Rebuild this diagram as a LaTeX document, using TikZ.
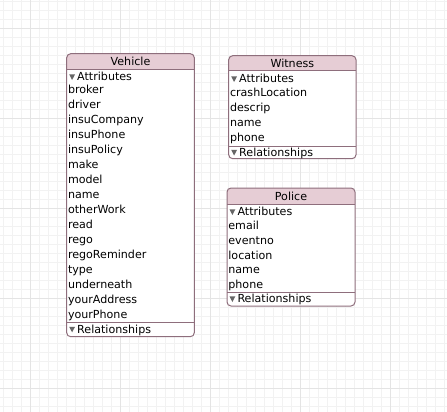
\documentclass[tikz,border=0pt]{standalone}
\usepackage{fontspec}
\setmainfont{DejaVu Sans}
\definecolor{hdr}{HTML}{E6CDD5}
\definecolor{bord}{HTML}{8E6E7C}
\definecolor{minorgrid}{HTML}{F2F2F2}
\definecolor{majorgrid}{HTML}{E4E4E4}
\definecolor{tri}{HTML}{666666}
\tikzset{
  item/.style={anchor=west, inner sep=0pt, text height=8pt, text depth=2.5pt, yshift=-1.1pt, font=\fontsize{11.1}{12}\selectfont},
  title/.style={anchor=center, inner sep=0pt, text height=8pt, text depth=2.5pt, yshift=-1.4pt, font=\fontsize{11.1}{12}\selectfont},
  boxline/.style={draw=bord, line width=1pt},
  tri/.style={fill=tri}
}
% #1 name, #2 L, #3 T, #4 R, #5 H, #6 S, #7 B, #8 title
\newcommand\entitybox[8]{%
  \begin{scope}
    \clip[rounded corners=4pt] (#2,#3) rectangle (#4,#7);
    \fill[white] (#2,#3) rectangle (#4,#7);
    \fill[hdr] (#2,#3) rectangle (#4,#5);
  \end{scope}
  \draw[boxline] (#2,#5) -- (#4,#5);
  \draw[boxline] (#2,#6) -- (#4,#6);
  \draw[boxline, rounded corners=4pt] (#2,#3) rectangle (#4,#7);
  \node[title] (#1title) at ({(#2+#4)/2},{(#3+#5)/2}) {#8};
}
\newcommand\sectionhead[4]{% #1 name, #2 L, #3 y, #4 text
  \fill[tri] (#2+2.5,#3-2.6) -- (#2+8.3,#3-2.6) -- (#2+5.4,#3+3) -- cycle;
  \node[item] (#1) at (#2+10.3,#3) {#4};
}
\begin{document}
\begin{tikzpicture}[x=1pt,y=-1pt]
\useasboundingbox (0,0) rectangle (447,412);
\fill[white] (0,0) rectangle (447,412);
\foreach \i in {0,...,49} {
  \draw[minorgrid, line width=1pt] (3.7+9*\i,0) -- (3.7+9*\i,412);
  \draw[minorgrid, line width=1pt] (0,1.3+9*\i) -- (447,1.3+9*\i);
}
\foreach \i in {0,...,4} {
  \draw[majorgrid, line width=1pt] (30.7+90*\i,0) -- (30.7+90*\i,412);
  \draw[majorgrid, line width=1pt] (0,28.3+90*\i) -- (447,28.3+90*\i);
}

% Vehicle
\entitybox{veh}{66.7}{53.7}{194.3}{69.3}{322}{336.7}{Vehicle}
\sectionhead{vehattr}{66.7}{77}{Attributes}
\foreach \txt [count=\idx from 0] in {broker,driver,insuCompany,insuPhone,insuPolicy,make,model,name,otherWork,read,rego,regoReminder,type,underneath,yourAddress,yourPhone}
  \node[item] (veh\idx) at (67.8,90+15.0*\idx) {\txt};
\sectionhead{vehrel}{66.7}{329.4}{Relationships}

% Witness
\entitybox{wit}{228.7}{55.7}{356}{71}{146}{158.7}{Witness}
\sectionhead{witattr}{228.7}{79}{Attributes}
\foreach \txt [count=\idx from 0] in {crashLocation,descrip,name,phone}
  \node[item] (wit\idx) at (229.8,93+15*\idx) {\txt};
\sectionhead{witrel}{228.7}{152.5}{Relationships}

% Police
\entitybox{pol}{227}{188}{355}{204}{292}{306}{Police}
\sectionhead{polattr}{227}{212}{Attributes}
\foreach \txt [count=\idx from 0] in {email,eventno,location,name,phone}
  \node[item] (pol\idx) at (228.2,226+14.7*\idx) {\txt};
\sectionhead{polrel}{227}{299}{Relationships}
\end{tikzpicture}
\end{document}
